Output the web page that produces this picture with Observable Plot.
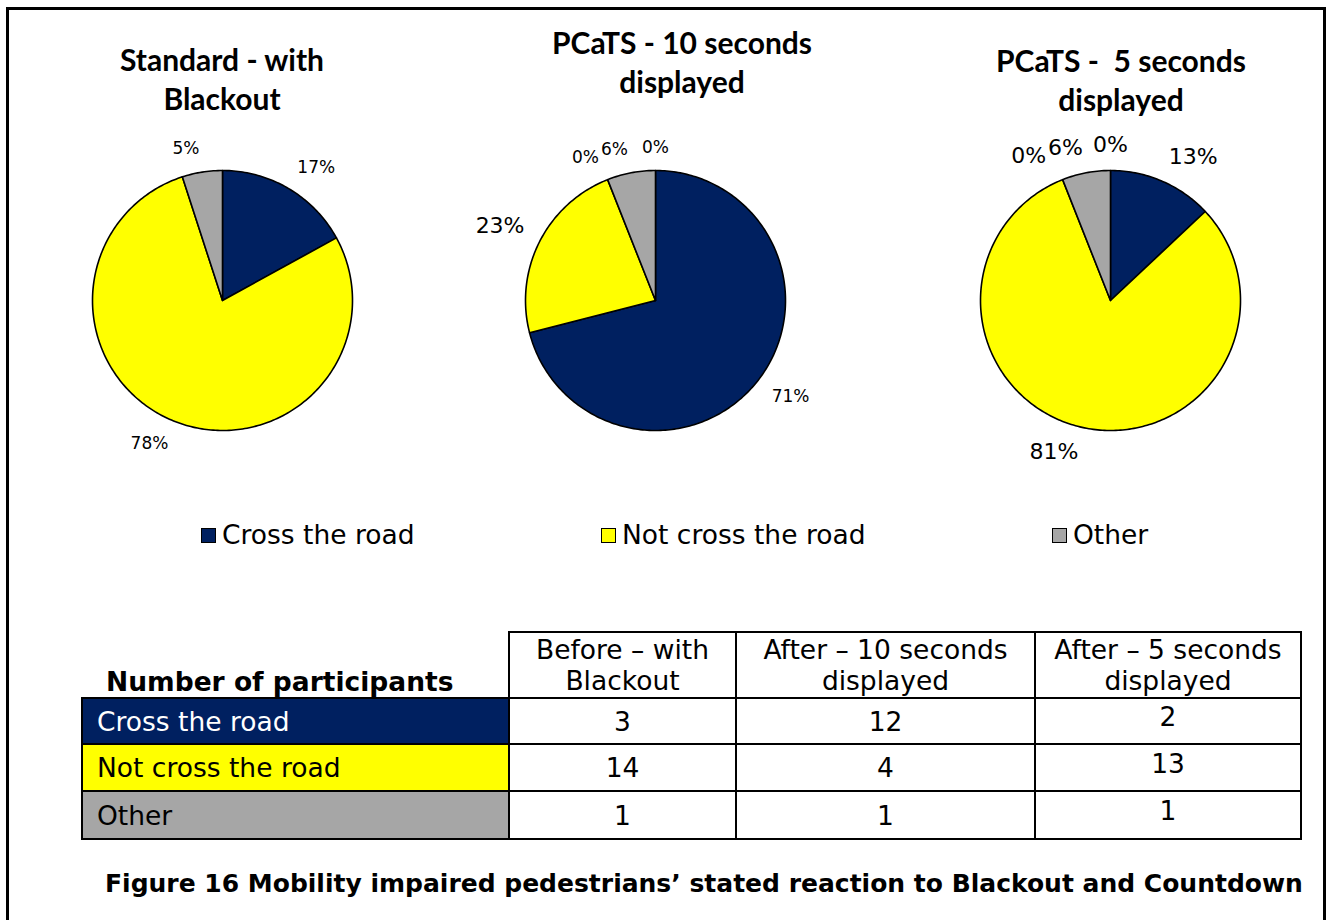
<!DOCTYPE html>
<html><head><meta charset="utf-8">
<script src="https://cdn.jsdelivr.net/npm/d3@7"></script>
<script src="https://cdn.jsdelivr.net/npm/@observablehq/plot@0.6"></script>
<style>
body{margin:0;background:#fff;font-family:"DejaVu Sans",Verdana,sans-serif;color:#000;}
#page{position:relative;width:1333px;height:920px;overflow:hidden;background:#fff;}
#frame{position:absolute;left:6px;top:7px;width:1314px;height:1000px;border:3px solid #000;}
.pie{position:absolute;}
.title{position:absolute;font-family:Lato,"Open Sans",sans-serif;font-weight:bold;font-size:30px;line-height:39px;text-align:center;white-space:pre;transform:translateX(-50%);}
.leg{position:absolute;font-size:26.5px;line-height:30px;white-space:nowrap;}
.leg .sw{display:inline-block;width:13px;height:13px;border:1px solid #000;margin-right:6px;vertical-align:1px;}
#tbl{position:absolute;left:81px;top:631px;border-collapse:collapse;table-layout:fixed;font-size:26.5px;}
#tbl td{border:2px solid #000;padding:0;text-align:center;line-height:31px;}
#tbl td.rowlab{text-align:left;padding-left:14px;}
#cap{position:absolute;left:105px;top:869px;font-weight:bold;font-size:25px;white-space:nowrap;}
</style></head>
<body>
<div id="page">
  <div id="frame"></div>
</div>
<script>
// ---- data ----
const sliceKeys = ["Cross the road", "Not cross the road", "Blank A", "Other", "Blank B"];
const sliceColors = ["#002060", "#FFFF00", "#FFFFFF", "#A6A6A6", "#FFFFFF"];
const legendCategories = ["Cross the road", "Not cross the road", "Other"];
const legendColors = ["#002060", "#FFFF00", "#A6A6A6"];

const pieTitles = ["Standard - with\nBlackout", "PCaTS - 10 seconds\ndisplayed", "PCaTS -  5 seconds\ndisplayed"];
// percentages shown on each pie (null = series not shown)
const standardPct = [17, 78, null, 5, null];
const tenSecondsPct = [71, 23, 0, 6, 0];
const fiveSecondsPct = [13, 81, 0, 6, 0];

const tableTitle = "Number of participants";
const tableColumns = ["Before – with\nBlackout", "After – 10 seconds\ndisplayed", "After – 5 seconds\ndisplayed"];
const tableRows = ["Cross the road", "Not cross the road", "Other"];
const crossCounts = [3, 12, 2];
const notCrossCounts = [14, 4, 13];
const otherCounts = [1, 1, 1];

const caption = "Figure 16 Mobility impaired pedestrians’ stated reaction to Blackout and Countdown";

// ---- layout (style) ----
const page = document.getElementById("page");
const R = 130; // pie radius px
const pieLayout = [
  {cx: 222, cy: 300, tx: 222, ty: 40, sizes: [17, 17, 17, 17, 17]},
  {cx: 655, cy: 300, tx: 682, ty: 23, sizes: [17, 22, 17, 17, 17]},
  {cx: 1110, cy: 300, tx: 1121, ty: 41, sizes: [22, 22, 22, 22, 22]}
];
const pieData = [standardPct, tenSecondsPct, fiveSecondsPct];

function textWidth(s, fs) {
  let w = 0;
  for (const c of s) w += c === "%" ? 0.95 : 0.636;
  return w * fs;
}

pieData.forEach((vals, p) => {
  const L = pieLayout[p];
  const W = 440, H = 380;
  const total = d3.sum(vals.filter(v => v != null));
  const pts = [];
  const labels = [];
  let acc = 0;
  vals.forEach((v, i) => {
    if (v == null) return;
    const a0 = acc / total * 2 * Math.PI;
    acc += v;
    const a1 = acc / total * 2 * Math.PI;
    if (v > 0) {
      const n = Math.max(2, Math.ceil((a1 - a0) / (Math.PI / 180)));
      pts.push({key: i, cat: sliceKeys[i], x: 0, y: 0});
      for (let k = 0; k <= n; k++) {
        const a = a0 + (a1 - a0) * k / n;
        pts.push({key: i, cat: sliceKeys[i], x: Math.sin(a), y: Math.cos(a)});
      }
      pts.push({key: i, cat: sliceKeys[i], x: 0, y: 0});
    }
    const mid = (a0 + a1) / 2;
    const fs = L.sizes[i];
    const text = v + "%";
    const w = textWidth(text, fs), h = fs * 0.75;
    const s = Math.abs(Math.sin(mid)) < 0.05 ? 0 : Math.sign(Math.sin(mid));
    const c = Math.abs(Math.cos(mid)) < 0.05 ? 0 : Math.sign(Math.cos(mid));
    const rr = R + 17;
    labels.push({
      text, fs, w,
      px: Math.sin(mid) * rr + s * w / 2,
      py: Math.cos(mid) * rr + c * h / 2
    });
  });
  // simple overlap avoidance: push left-side labels leftward
  for (let a = 0; a < labels.length; a++) for (let b = 0; b < labels.length; b++) {
    if (a === b) continue;
    const A = labels[a], B = labels[b];
    if (A.px < B.px && Math.abs(A.py - B.py) < 14) {
      const ov = (A.px + A.w / 2 + 2) - (B.px - B.w / 2);
      if (ov > 0) A.px -= ov;
    }
  }
  labels.forEach(l => { l.x = l.px / R; l.y = l.py / R; });

  const plot = Plot.plot({
    width: W, height: H, margin: 0,
    x: {domain: [-W / 2 / R, W / 2 / R], axis: null},
    y: {domain: [-H / 2 / R, H / 2 / R], axis: null},
    color: {domain: sliceKeys, range: sliceColors},
    style: {background: "transparent", overflow: "visible"},
    marks: [
      Plot.line(pts, {x: "x", y: "y", z: "key", fill: "cat", stroke: "#000", strokeWidth: 1.6, strokeLinejoin: "round"}),
      Plot.text(labels, {x: "x", y: "y", text: "text", fontSize: "fs", fill: "#000", fontFamily: "DejaVu Sans"})
    ]
  });
  plot.classList.add("pie");
  plot.style.left = (L.cx - W / 2) + "px";
  plot.style.top = (L.cy - H / 2) + "px";
  page.appendChild(plot);

  const t = document.createElement("div");
  t.className = "title";
  t.textContent = pieTitles[p];
  t.style.left = L.tx + "px";
  t.style.top = L.ty + "px";
  page.appendChild(t);
});

// legend
const legendX = [201, 601, 1052];
legendCategories.forEach((c, i) => {
  const d = document.createElement("div");
  d.className = "leg";
  d.style.left = legendX[i] + "px";
  d.style.top = "520px";
  d.innerHTML = `<span class="sw" style="background:${legendColors[i]}"></span>${c}`;
  page.appendChild(d);
});

// table
const colW = [427, 227, 299, 266];
const rowH = [66, 46, 47, 48];
const counts = [crossCounts, notCrossCounts, otherCounts];
const tbl = document.createElement("table");
tbl.id = "tbl";
const cg = document.createElement("colgroup");
colW.forEach(w => { const c = document.createElement("col"); c.style.width = w + "px"; cg.appendChild(c); });
tbl.appendChild(cg);
const hr = tbl.insertRow();
hr.style.height = rowH[0] + "px";
const h0 = hr.insertCell();
h0.textContent = tableTitle;
h0.style.cssText = "border-top:none;border-left:none;font-weight:bold;text-align:left;padding-left:24px;vertical-align:bottom;padding-bottom:0px;";
tableColumns.forEach(c => {
  const td = hr.insertCell();
  td.style.whiteSpace = "pre";
  td.textContent = c;
});
tableRows.forEach((r, i) => {
  const tr = tbl.insertRow();
  tr.style.height = rowH[i + 1] + "px";
  const td = tr.insertCell();
  td.className = "rowlab";
  td.textContent = r;
  td.style.background = legendColors[i];
  td.style.color = i === 0 ? "#fff" : "#000";
  counts[i].forEach((v, j) => {
    const c = tr.insertCell();
    c.textContent = v;
    if (j === 2) c.style.paddingBottom = "9px";
  });
});
page.appendChild(tbl);

const cap = document.createElement("div");
cap.id = "cap";
cap.textContent = caption;
page.appendChild(cap);
</script>
</body></html>
